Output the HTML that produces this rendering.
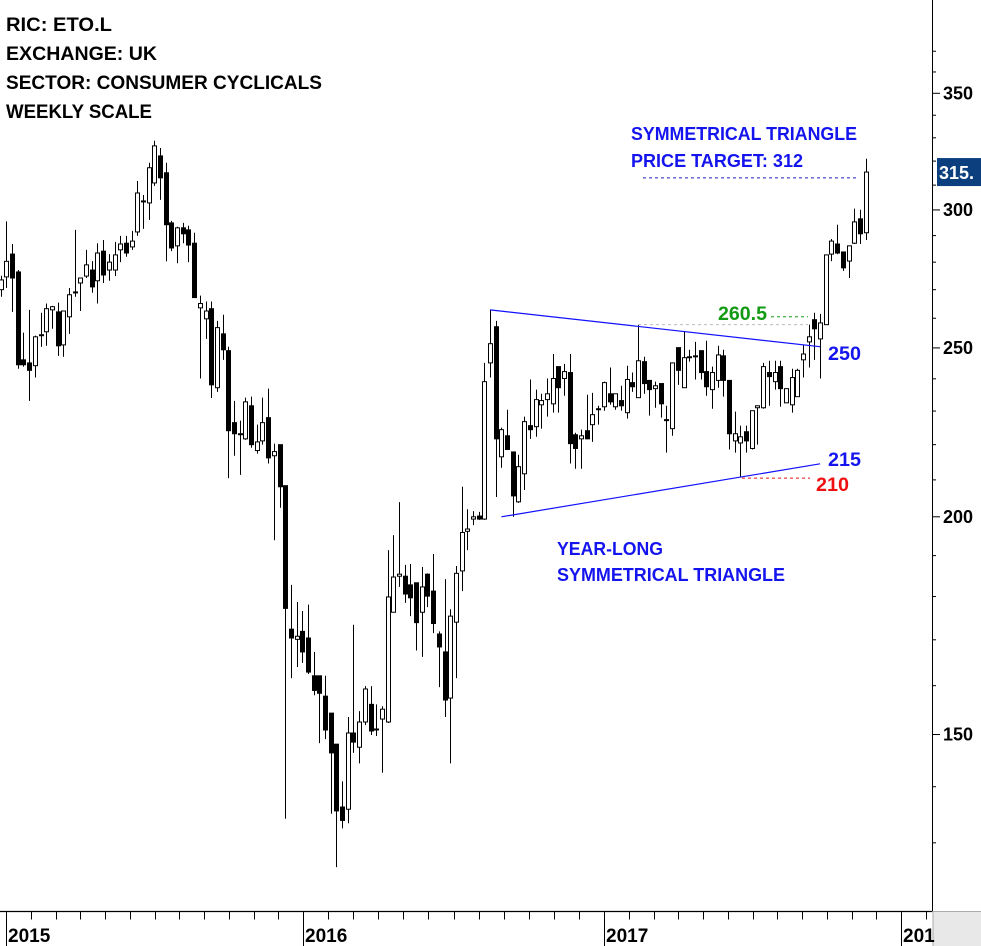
<!DOCTYPE html>
<html><head><meta charset="utf-8"><title>ETO.L weekly</title>
<style>
html,body{margin:0;padding:0;background:#fff;}
svg{display:block;font-family:"Liberation Sans",sans-serif;}
</style></head>
<body>
<svg id="chart" width="981" height="946" viewBox="0 0 981 946" xmlns="http://www.w3.org/2000/svg">
  <rect x="0" y="0" width="981" height="946" fill="#fff"/>
  <g id="grid"></g>
  <g id="candles"></g>
  <g id="ann"></g>
  <g font-weight="bold" font-size="19" fill="#000">
    <text x="6" y="31" textLength="106" lengthAdjust="spacingAndGlyphs">RIC: ETO.L</text>
    <text x="6" y="60" textLength="151" lengthAdjust="spacingAndGlyphs">EXCHANGE: UK</text>
    <text x="6" y="89" textLength="316" lengthAdjust="spacingAndGlyphs">SECTOR: CONSUMER CYCLICALS</text>
    <text x="6" y="118" textLength="146" lengthAdjust="spacingAndGlyphs">WEEKLY SCALE</text>
  </g>
  <g font-weight="bold" font-size="18" fill="#1414ee">
    <text x="631" y="140" textLength="226" lengthAdjust="spacingAndGlyphs">SYMMETRICAL TRIANGLE</text>
    <text x="631" y="167" textLength="172" lengthAdjust="spacingAndGlyphs">PRICE TARGET: 312</text>
  </g>
  <g font-weight="bold" font-size="18" fill="#1414ee">
    <text x="557" y="555" textLength="106" lengthAdjust="spacingAndGlyphs">YEAR-LONG</text>
    <text x="557" y="581" textLength="228" lengthAdjust="spacingAndGlyphs">SYMMETRICAL TRIANGLE</text>
  </g>
  <g font-weight="bold" font-size="19">
    <text x="718" y="320" fill="#139a13" textLength="49" lengthAdjust="spacingAndGlyphs">260.5</text>
    <text x="828" y="360" fill="#1414ee" textLength="33" lengthAdjust="spacingAndGlyphs">250</text>
    <text x="828" y="466" fill="#1414ee" textLength="33" lengthAdjust="spacingAndGlyphs">215</text>
    <text x="816" y="491" fill="#ee1111" textLength="33" lengthAdjust="spacingAndGlyphs">210</text>
  </g>
</svg>
<script>
const opens  = [270.0,274.6,283.0,276.4,246.1,245.1,244.2,254.4,255.4,262.9,262.2,251.0,260.5,269.2,272.4,274.9,277.1,273.2,284.1,277.1,277.1,284.6,287.1,285.7,291.4,303.6,302.8,310.9,322.2,315.1,294.9,286.1,293.0,292.2,287.1,263.6,259.8,263.3,237.2,254.7,249.1,226.5,223.2,221.7,231.6,218.3,221.1,228.0,216.8,220.0,208.4,172.4,170.1,171.9,170.4,162.1,162.1,157.8,154.3,148.1,136.3,135.9,150.3,147.5,152.5,156.1,151.1,153.1,152.5,176.3,184.9,184.9,182.8,183.3,176.3,185.4,181.3,171.3,167.3,157.4,174.0,186.2,196.2,199.4,200.2,199.4,245.1,257.1,216.5,222.6,217.9,204.0,211.7,225.6,225.3,231.9,233.5,232.2,243.9,240.1,242.0,222.9,221.7,224.1,225.9,230.7,231.3,235.3,231.3,233.2,229.5,238.8,234.1,245.5,239.5,236.9,238.5,227.4,224.7,250.1,237.2,247.1,247.4,249.1,242.3,236.6,239.5,247.4,239.5,221.1,220.5,223.8,218.9,231.0,231.0,242.0,239.1,243.9,232.5,231.9,234.4,246.1,252.0,259.5,253.0,257.8,283.0,286.8,283.8,280.4,287.1,296.5,291.1];
const highs  = [275.0,295.5,286.8,277.1,255.1,262.9,254.1,261.9,265.1,264.3,265.4,262.5,270.6,292.2,274.2,284.6,280.4,287.1,288.3,283.0,287.6,289.9,289.9,291.8,311.7,306.0,319.3,328.7,325.6,319.3,295.7,293.4,294.9,293.8,291.1,267.9,265.8,265.8,259.1,261.2,250.4,233.1,227.1,234.1,234.4,225.9,234.1,236.9,220.3,220.0,208.4,182.8,178.7,176.6,178.1,167.3,162.1,162.1,154.3,148.1,141.0,153.5,173.4,154.7,159.9,159.9,156.1,155.7,191.4,195.2,203.9,187.7,187.9,183.3,187.2,185.6,190.4,171.9,184.2,177.0,187.4,208.1,202.0,201.5,201.3,245.1,262.9,259.1,225.0,230.4,217.9,217.1,228.3,239.8,236.6,235.3,240.1,248.0,243.9,244.8,248.0,223.5,224.4,235.0,235.6,231.6,239.1,243.6,235.3,237.8,244.2,242.0,257.8,247.1,239.5,239.1,238.5,231.6,245.1,250.1,255.4,249.4,252.0,249.1,252.4,243.9,250.7,249.4,239.5,229.8,225.6,225.6,230.1,231.6,245.1,245.8,245.8,245.8,236.9,243.2,243.2,251.0,257.8,261.9,261.5,282.7,288.7,294.2,283.8,286.1,300.5,300.1,321.0];
const lows   = [267.5,270.6,262.2,243.2,243.9,233.1,240.4,250.4,250.7,256.4,247.4,247.1,254.7,267.5,262.5,274.2,268.9,265.1,272.4,273.2,274.9,280.0,282.0,284.6,289.9,292.6,296.1,309.7,304.0,280.3,284.1,279.6,287.1,280.0,267.2,240.1,253.0,234.0,235.9,246.1,210.5,216.8,211.4,221.4,219.1,217.4,220.0,214.6,193.9,202.4,134.2,161.6,164.0,164.9,162.5,158.0,148.3,149.1,135.1,125.9,132.5,133.4,146.4,144.4,151.9,149.9,149.7,142.6,152.3,176.3,182.3,178.5,175.4,167.6,166.2,177.5,171.5,159.7,153.5,144.4,161.6,181.3,191.4,197.8,199.2,199.2,240.4,205.3,213.4,218.6,200.0,203.7,207.2,221.7,222.3,224.7,228.3,229.5,229.5,234.7,214.6,213.1,213.1,221.7,220.8,225.9,230.1,231.9,230.4,230.1,227.7,235.9,234.1,235.3,228.6,231.0,228.0,217.7,222.6,238.1,237.2,245.5,239.8,239.8,234.7,230.7,237.2,234.4,218.6,217.7,210.9,217.7,218.6,220.0,230.7,231.6,236.6,231.3,232.5,229.5,234.4,240.4,243.6,246.1,240.1,257.8,280.4,283.0,276.8,274.2,286.8,286.8,288.3];
const closes = [273.5,280.3,274.2,244.5,244.5,242.7,253.7,254.4,263.3,264.0,250.7,262.5,268.2,268.9,274.2,279.0,271.0,283.4,275.3,280.0,282.7,286.8,283.4,287.9,306.8,303.2,317.2,326.5,313.0,294.2,285.3,293.0,290.7,286.4,267.2,265.1,262.5,238.1,256.8,249.4,224.1,223.2,223.2,232.8,220.0,220.8,226.5,216.2,218.0,208.1,177.2,170.4,170.8,167.3,162.9,159.0,158.4,150.9,146.4,135.6,133.9,150.3,148.5,152.5,159.3,150.7,151.1,155.1,179.9,184.7,185.4,180.6,179.7,173.9,182.3,180.1,173.7,168.4,157.0,175.4,185.6,195.9,196.8,200.0,199.4,239.1,251.4,221.7,224.4,218.6,205.6,213.7,226.8,224.4,233.5,233.2,235.3,240.1,237.2,242.3,220.3,218.9,222.6,221.7,228.9,230.7,238.8,232.8,235.3,231.6,239.8,237.5,245.8,238.5,236.6,237.8,232.2,227.4,245.1,242.7,246.8,247.1,247.4,242.0,237.5,242.0,247.7,239.5,223.2,223.2,222.3,221.1,230.1,231.6,243.9,240.7,242.0,236.9,236.9,240.4,242.7,248.0,253.7,256.4,258.4,282.7,287.9,283.4,277.9,286.1,295.3,290.7,315.4];
const yTicks = [150, 200, 250, 300, 350];
const yMinorTicks = [130,140,160,170,180,190,210,220,230,240,260,270,280,290,310,320,330,340,360,370];
const yearLabels = ["2015", "2016", "2017", "201"];
const yearStartX = [6, 303, 604, 901];
const lastPrice = 315.4;
const targetPrice = 313;
const upperLine = {i0: 86, p0: 262.9, i1: 144, p1: 250.4};
const lowerLine = {i0: 88, p0: 200.0, i1: 144, p1: 214.5};

const NS = "http://www.w3.org/2000/svg";
const PLOT_R = 932, AXIS_Y = 911.5;
function xS(i){ return 0.7 + i * 5.69; }
function yS(v){ return 516.8 - 756.8 * Math.log(v / 200); }
function mk(tag, attrs, parent){ const e = document.createElementNS(NS, tag); for (const k in attrs) e.setAttribute(k, attrs[k]); parent.appendChild(e); return e; }

const grid = document.getElementById('grid');
const cg = document.getElementById('candles');
const ann = document.getElementById('ann');

// axes
let a = mk('line', {x1: PLOT_R + 0.5, y1: 0, x2: PLOT_R + 0.5, y2: AXIS_Y, stroke: '#000', 'stroke-width': 1}, grid);


a = mk('line', {x1: 0, y1: AXIS_Y, x2: PLOT_R, y2: AXIS_Y, stroke: '#000', 'stroke-width': 1.3}, grid);


a = mk('rect', {x: PLOT_R + 1, y: AXIS_Y, width: 49, height: 35, fill: '#e8e8e8', stroke: '#999', 'stroke-width': 0.8}, grid);



yTicks.forEach(function(v){
  const y = yS(v);
  const t = mk('line', {x1: PLOT_R, y1: y, x2: PLOT_R + 8, y2: y, stroke: '#000', 'stroke-width': 1}, grid);
  
  
  const l = mk('text', {x: 943, y: y + 6, 'font-size': 18, 'font-weight': 'bold', fill: '#000'}, grid);
  l.textContent = String(v);
  
  
});
yMinorTicks.forEach(function(v){
  const y = yS(v);
  const t = mk('line', {x1: PLOT_R, y1: y, x2: PLOT_R + 4, y2: y, stroke: '#000', 'stroke-width': 1}, grid);
  
  
});
yearLabels.forEach(function(lbl, k){
  const x = yearStartX[k];
  const s = mk('line', {x1: x + 0.5, y1: AXIS_Y, x2: x + 0.5, y2: 946, stroke: '#000', 'stroke-width': 1}, grid);
  
  
  const t = mk('text', {x: x + 2, y: 942, 'font-size': 19, 'font-weight': 'bold', fill: '#000'}, grid);
  t.textContent = lbl;
  
  
  if (k < yearLabels.length - 1) {
    const w = (yearStartX[k + 1] - x) / 12;
    for (let m = 1; m < 12; m++) {
      const mx = Math.round(x + m * w) + 0.5;
      const mt = mk('line', {x1: mx, y1: AXIS_Y, x2: mx, y2: AXIS_Y + 8, stroke: '#000', 'stroke-width': 1}, grid);
      
      
    }
  }
});
for (let m = 1; m < 2; m++) {
  const mx = Math.round(901 + m * 24.8) + 0.5;
  const mt = mk('line', {x1: mx, y1: AXIS_Y, x2: mx, y2: AXIS_Y + 8, stroke: '#000', 'stroke-width': 1}, grid);
  
  
}

// candles
for (let i = 0; i < closes.length; i++) {
  const x = Math.round(xS(i)) + 0.5;
  const o = opens[i], c = closes[i], h = highs[i], l = lows[i];
  const w = mk('line', {x1: x, y1: yS(h), x2: x, y2: yS(l), stroke: '#000', 'stroke-width': 1}, cg);
  
  
  const top = yS(Math.max(o, c)), bot = yS(Math.min(o, c));
  const up = c >= o;
  const b = mk('rect', {x: x - 2, y: top, width: 4, height: Math.max(bot - top, 1), fill: up ? '#fff' : '#000', stroke: '#000', 'stroke-width': 1}, cg);
  
  
}

// annotations
let e = mk('line', {x1: xS(upperLine.i0), y1: yS(upperLine.p0), x2: xS(upperLine.i1), y2: yS(upperLine.p1), stroke: '#1010ff', 'stroke-width': 1.2}, ann);


e = mk('line', {x1: xS(lowerLine.i0), y1: yS(lowerLine.p0), x2: xS(lowerLine.i1), y2: yS(lowerLine.p1), stroke: '#1010ff', 'stroke-width': 1.2}, ann);


e = mk('line', {x1: 643, y1: yS(targetPrice), x2: 858, y2: yS(targetPrice), stroke: '#2020c0', 'stroke-width': 1, 'stroke-dasharray': '3,3'}, ann);


e = mk('line', {x1: xS(112), y1: yS(highs[112]), x2: 808, y2: yS(highs[112]), stroke: '#bbb', 'stroke-width': 1, 'stroke-dasharray': '3,3'}, ann);


e = mk('line', {x1: 771, y1: yS(260.5), x2: 808, y2: yS(260.5), stroke: '#139a13', 'stroke-width': 1, 'stroke-dasharray': '3,3'}, ann);


e = mk('line', {x1: 742, y1: yS(210.5), x2: 810, y2: yS(210.5), stroke: '#ee1111', 'stroke-width': 1, 'stroke-dasharray': '3,3'}, ann);


const ly = yS(lastPrice);
e = mk('rect', {x: 937, y: ly - 14, width: 44, height: 28, fill: '#0b3f7e'}, ann);


e = mk('text', {x: 939, y: ly + 7, 'font-size': 18, 'font-weight': 'bold', fill: '#fff'}, ann);
e.textContent = lastPrice.toFixed(0) + '.';


</script>
</body></html>
